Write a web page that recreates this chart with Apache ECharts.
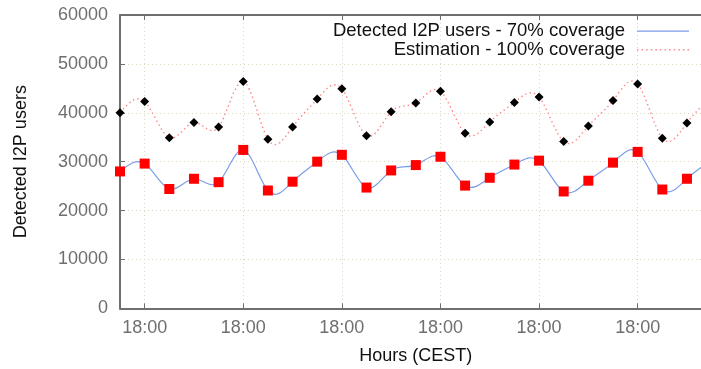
<!DOCTYPE html>
<html>
<head>
<meta charset="utf-8">
<script src="https://cdn.jsdelivr.net/npm/echarts@6/dist/echarts.min.js"></script>
<style>
  html, body { margin: 0; padding: 0; background: #ffffff; }
  #chart { width: 701px; height: 369px; }
</style>
</head>
<body>
<div id="chart"></div>
<script>
// Sampling times, in hours from 12:00 of the first day (one sample every 6 hours)
const sampleHours = [0, 6, 12, 18, 24, 30, 36, 42, 48, 54, 60, 66, 72, 78, 84, 90, 96, 102, 108, 114, 120, 126, 132, 138, 144];

// Users seen by the detector (about 70% coverage)
const detectedUsers = [28000, 29600, 24400, 26500, 25800, 32400, 24100, 25900, 30000, 31400, 24700, 28200,
                       29300, 31000, 25100, 26700, 29400, 30200, 23900, 26100, 29800, 32000, 24300, 26500, 30300];

// Extrapolated population (100% coverage)
const estimatedUsers = [40000, 42300, 34900, 38000, 37100, 46400, 34600, 37100, 42800, 44900, 35300, 40200,
                        42000, 44400, 35800, 38100, 42100, 43200, 34100, 37300, 42500, 45900, 34800, 37900, 43300];

// Daily 18:00 ticks on the time axis
const xTickHours = [6, 30, 54, 78, 102, 126];
const xTickLabel = '18:00';

const detectedName = 'Detected I2P users - 70% coverage';
const estimatedName = 'Estimation - 100% coverage';

const FONT = "'Liberation Sans', Arial, Helvetica, sans-serif";
const AXIS_GREY = '#6f6f6f';
const GRID_COLOR = '#d9d6c2';
const BLUE = '#7b9de9';
const SALMON = '#ff8a8a';

const pairs = (ys) => sampleHours.map((h, i) => [h, ys[i]]);

// Slopes of a natural cubic spline through (xs, ys); used to turn each
// interval into an exact cubic Bezier segment (csplines-style smoothing).
function splineSlopes(xs, ys) {
  const n = xs.length;
  const h = [];
  for (let i = 0; i < n - 1; i++) h.push(xs[i + 1] - xs[i]);
  const a = new Array(n).fill(0), b = new Array(n).fill(1), c = new Array(n).fill(0), d = new Array(n).fill(0);
  for (let i = 1; i < n - 1; i++) {
    a[i] = h[i - 1];
    b[i] = 2 * (h[i - 1] + h[i]);
    c[i] = h[i];
    d[i] = 6 * ((ys[i + 1] - ys[i]) / h[i] - (ys[i] - ys[i - 1]) / h[i - 1]);
  }
  // Thomas algorithm (natural ends: second derivative zero)
  const cp = new Array(n).fill(0), dp = new Array(n).fill(0);
  cp[0] = c[0] / b[0]; dp[0] = d[0] / b[0];
  for (let i = 1; i < n; i++) {
    const m = b[i] - a[i] * cp[i - 1];
    cp[i] = c[i] / m;
    dp[i] = (d[i] - a[i] * dp[i - 1]) / m;
  }
  const M = new Array(n).fill(0);
  M[n - 1] = dp[n - 1];
  for (let i = n - 2; i >= 0; i--) M[i] = dp[i] - cp[i] * M[i + 1];
  // start / end slope of each interval
  const seg = [];
  for (let i = 0; i < n - 1; i++) {
    const s = (ys[i + 1] - ys[i]) / h[i];
    seg.push({
      m0: s - h[i] * (2 * M[i] + M[i + 1]) / 6,
      m1: s + h[i] * (M[i] + 2 * M[i + 1]) / 6
    });
  }
  return seg;
}

function splineSeries(name, ys, color, lineWidth, dash) {
  const seg = splineSlopes(sampleHours, ys);
  return {
    name: name,
    type: 'custom',
    data: pairs(ys),
    encode: { x: 0, y: 1 },
    itemStyle: { color: color },
    clip: true,
    z: 2,
    renderItem: function (params, api) {
      const i = params.dataIndex;
      if (i >= sampleHours.length - 1) return null;
      const x0 = sampleHours[i], x1 = sampleHours[i + 1];
      const hh = (x1 - x0) / 3;
      const p0 = api.coord([x0, ys[i]]);
      const c1 = api.coord([x0 + hh, ys[i] + hh * seg[i].m0]);
      const c2 = api.coord([x1 - hh, ys[i + 1] - hh * seg[i].m1]);
      const p1 = api.coord([x1, ys[i + 1]]);
      return {
        type: 'bezierCurve',
        shape: { x1: p0[0], y1: p0[1], cpx1: c1[0], cpy1: c1[1], cpx2: c2[0], cpy2: c2[1], x2: p1[0], y2: p1[1] },
        style: { stroke: color, lineWidth: lineWidth, lineDash: dash, fill: null }
      };
    }
  };
}

// Legend samples: a solid bar and a row of dots
const solidIcon = 'path://M0,0H52V1.2H0Z';
let dotted = '';
for (let x = 0; x < 52; x += 4.5) dotted += 'M' + x + ',0h1.5v1.4h-1.5Z';
const dottedIcon = 'path://' + dotted;

const chart = echarts.init(document.getElementById('chart'), null, { renderer: 'canvas' });

const legendCommon = {
  orient: 'vertical',
  right: 12,
  padding: 0,
  itemWidth: 52,
  itemHeight: 14,
  textStyle: { fontFamily: FONT, fontSize: 18.5, color: '#111', lineHeight: 18, padding: [0, 7, 0, 0] },
  align: 'right',
  selectedMode: false
};

chart.setOption({
  animation: false,
  backgroundColor: '#ffffff',
  textStyle: { fontFamily: FONT },
  grid: { left: 120, top: 15, width: 591.6, height: 293.3, outerBoundsMode: 'none', containLabel: false },
  legend: [
    Object.assign({}, legendCommon, { top: 21.7, data: [{ name: detectedName, icon: solidIcon }] }),
    Object.assign({}, legendCommon, { top: 40.3, data: [{ name: estimatedName, icon: dottedIcon }] })
  ],
  xAxis: [
    {
      type: 'value',
      position: 'bottom',
      min: 0,
      max: 144,
      name: 'Hours (CEST)',
      nameLocation: 'middle',
      nameGap: 39,
      nameTextStyle: { fontFamily: FONT, fontSize: 18, color: '#111' },
      axisLine: { show: true, onZero: false, lineStyle: { color: AXIS_GREY, width: 2 } },
      axisTick: { show: true, inside: true, length: 5, customValues: xTickHours, lineStyle: { color: AXIS_GREY, width: 1 } },
      axisLabel: { show: true, customValues: xTickHours, formatter: () => xTickLabel, margin: 11,
                   fontFamily: FONT, fontSize: 18, color: AXIS_GREY },
      splitLine: { show: true, lineStyle: { color: GRID_COLOR, width: 1, type: [1, 3] } }
    },
    {
      type: 'value',
      position: 'top',
      min: 0,
      max: 144,
      axisLine: { show: true, onZero: false, lineStyle: { color: AXIS_GREY, width: 2 } },
      axisTick: { show: true, inside: true, length: 5, customValues: xTickHours, lineStyle: { color: AXIS_GREY, width: 1 } },
      axisLabel: { show: false },
      splitLine: { show: false }
    }
  ],
  yAxis: {
    type: 'value',
    min: 0,
    max: 60000,
    interval: 10000,
    name: 'Detected I2P users',
    nameLocation: 'middle',
    nameGap: 90,
    nameTextStyle: { fontFamily: FONT, fontSize: 18, color: '#111' },
    axisLine: { show: true, onZero: false, lineStyle: { color: AXIS_GREY, width: 2 } },
    axisTick: { show: true, inside: true, length: 5, lineStyle: { color: AXIS_GREY, width: 1 } },
    axisLabel: { margin: 12, fontFamily: FONT, fontSize: 18, color: AXIS_GREY, formatter: (v) => String(v) },
    splitLine: { show: true, lineStyle: { color: GRID_COLOR, width: 1, type: [1, 3] } }
  },
  series: [
    splineSeries(detectedName, detectedUsers, BLUE, 1.2, null),
    splineSeries(estimatedName, estimatedUsers, SALMON, 1.4, [1.5, 3]),
    {
      name: 'detected points',
      type: 'scatter',
      data: pairs(detectedUsers),
      symbol: 'rect',
      symbolSize: 10,
      itemStyle: { color: '#ff0000', opacity: 1 },
      z: 4
    },
    {
      name: 'estimated points',
      type: 'scatter',
      data: pairs(estimatedUsers),
      symbol: 'diamond',
      symbolSize: 9,
      itemStyle: { color: '#000000', opacity: 1 },
      z: 4
    }
  ]
});
</script>
</body>
</html>
